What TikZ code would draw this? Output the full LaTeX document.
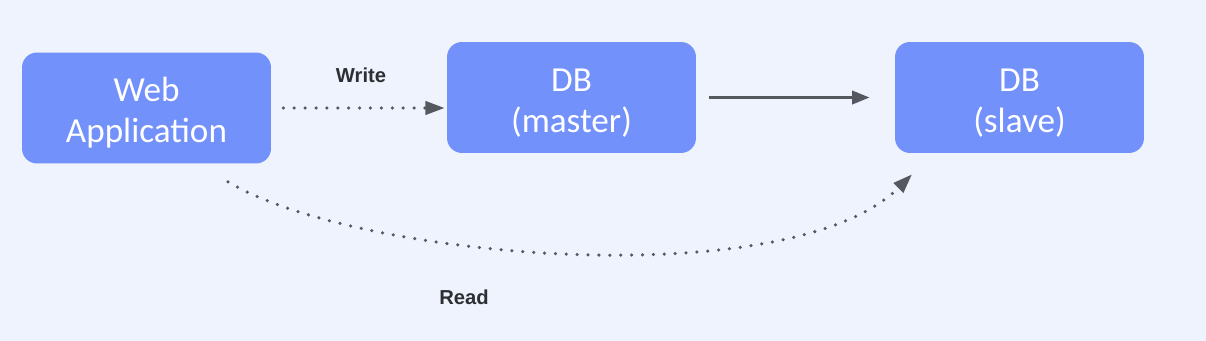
\documentclass[tikz,border=0pt]{standalone}
\usepackage{fontspec}
\usepackage{tikz}
\usetikzlibrary{arrows.meta, positioning, calc}
\usepackage{xcolor}

\newfontfamily\boxfont{Carlito}
\newfontfamily\labelfont{Liberation Sans}

\definecolor{pagebg}{RGB}{238,243,253}
\definecolor{boxblue}{RGB}{115,145,250}
\definecolor{arrowgray}{RGB}{85,88,95}
\definecolor{labelgray}{RGB}{45,47,52}

\newcommand{\boxstrut}{\rule{0pt}{19pt}}

\begin{document}
\begin{tikzpicture}[
  x=0.02cm, y=-0.02cm,
  dbbox/.style={
    rectangle,
    fill=boxblue,
    text=white,
    minimum width=4.98cm,
    minimum height=2.22cm,
    align=center,
    rounded corners=0.3cm,
    font=\boxfont\fontsize{20}{23.5}\selectfont
  },
  linklabel/.style={text=labelgray, font=\labelfont\bfseries\fontsize{11.5}{14}\selectfont},
  flow/.style={-{Triangle[length=10pt, width=7.5pt]}, draw=arrowgray, line width=1.8pt},
  dotflow/.style={-{Triangle[length=11pt, width=7.5pt]}, draw=arrowgray,
    line width=2pt, line cap=round, dash pattern=on 0pt off 6.2pt}
]

  % Background
  \fill[pagebg] (0,0) rectangle (1206,341);
  \useasboundingbox (0,0) rectangle (1206,341);

  % Nodes
  \node (web)    [dbbox] at (146.5,108)  {\boxstrut Web\\Application};
  \node (master) [dbbox] at (571.5,97.5) {\boxstrut DB\\(master)};
  \node (slave)  [dbbox] at (1019.5,97.5) {\boxstrut DB\\(slave)};

  % Arrows
  \draw [dotflow, shorten <=0.24cm, shorten >=0.04cm] (web.east) -- (web.east -| master.west);
  \draw [flow, shorten <=0.26cm, shorten >=0.5cm] (master.east) -- (slave.west);
  \draw [dotflow] ([shift={(81.5,18)}]web.south)
    .. controls +(130,78) and +(-121,121) .. ([shift={(-107.5,21)}]slave.south);

  % Labels
  \node (write) [linklabel] at (361,75)  {Write};
  \node (read)  [linklabel] at (464,297) {Read};

\end{tikzpicture}
\end{document}
